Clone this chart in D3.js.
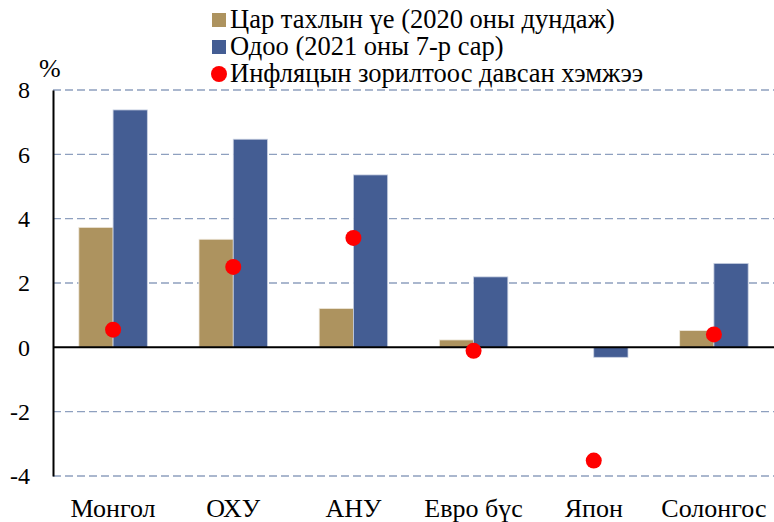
<!DOCTYPE html>
<html><head><meta charset="utf-8">
<script src="https://cdn.jsdelivr.net/npm/d3@7/dist/d3.min.js"></script>
<style>body{margin:0;background:#fff}svg{display:block}</style>
</head><body><svg id="c" width="774" height="522"></svg>
<script>
const categories = ["Монгол","ОХУ","АНУ","Евро бүс","Япон","Солонгос"];
const pandemicValues = [3.73, 3.36, 1.21, 0.23, 0.0, 0.52];
const currentValues = [7.38, 6.47, 5.36, 2.19, -0.31, 2.61];
const excessValues = [0.55, 2.5, 3.4, -0.11, -3.52, 0.40];
const yTicks = [-4,-2,0,2,4,6,8];
const seriesNames = ["Цар тахлын үе (2020 оны дундаж)","Одоо (2021 оны 7-р сар)","Инфляцын зорилтоос давсан хэмжээ"];
const colors = ["#AD935F","#445D93","#FF0000"];

(function(){
const FONT = "Liberation Serif";
const svg = d3.select("#c");
const mLeft = 53, mRight = 774, mTop = 90, mBottom = 476;
const x = d3.scaleBand().domain(categories).range([mLeft, mRight]).paddingInner(0.43).paddingOuter(0.215);
const y = d3.scaleLinear().domain([-4, 8]).range([mBottom, mTop]);

svg.append("g").selectAll("line").data(yTicks.filter(d=>d!==0)).join("line")
  .attr("x1", mLeft).attr("x2", mRight).attr("y1", d=>y(d)).attr("y2", d=>y(d))
  .attr("stroke","#8EA0BF").attr("stroke-width",1.3).attr("stroke-dasharray","8,4");

const bw = x.bandwidth()/2;
const g = svg.append("g");
g.selectAll("rect.p").data(categories).join("rect").attr("class","p")
  .attr("x", d=>x(d)).attr("width", bw)
  .attr("y", (d,i)=>y(Math.max(0,pandemicValues[i]))).attr("height",(d,i)=>Math.abs(y(pandemicValues[i])-y(0)))
  .attr("fill",colors[0]).attr("stroke","#EFE9DE").attr("stroke-width",0.8);
g.selectAll("rect.c").data(categories).join("rect").attr("class","c")
  .attr("x", d=>x(d)+bw).attr("width", bw)
  .attr("y", (d,i)=>y(Math.max(0,currentValues[i]))).attr("height",(d,i)=>Math.abs(y(currentValues[i])-y(0)))
  .attr("fill",colors[1]).attr("stroke","#C9D1E2").attr("stroke-width",0.8);

const ya = svg.append("g").attr("transform",`translate(${mLeft},0)`)
  .call(d3.axisLeft(y).tickValues(yTicks).tickSize(0).tickPadding(23).tickFormat(d=>String(d)));
ya.attr("font-family", FONT).attr("font-size", 24);
ya.select(".domain").attr("stroke","#000").attr("stroke-width",2);
ya.selectAll("text").attr("fill","#000").attr("dy","0.33em");

svg.append("line").attr("x1",mLeft).attr("x2",mRight).attr("y1",y(0)).attr("y2",y(0)).attr("stroke","#000").attr("stroke-width",2);

svg.append("g").selectAll("circle").data(categories).join("circle")
  .attr("cx", d=>x(d)+bw).attr("cy",(d,i)=>y(excessValues[i])).attr("r",8).attr("fill",colors[2]);

svg.append("g").attr("font-family", FONT).attr("font-size", 26).selectAll("text").data(categories).join("text")
  .attr("x", d=>x(d)+bw).attr("y", 517).attr("text-anchor","middle").attr("fill","#000").text(d=>d);

svg.append("text").attr("font-family", FONT).attr("font-size", 26).attr("x",39).attr("y",77).text("%");

const lg = svg.append("g").attr("font-family", FONT).attr("font-size", 26.5);
seriesNames.forEach((s,i)=>{
  const yy = 20 + i*27;
  if(i<2) lg.append("rect").attr("x",212).attr("y",yy-7).attr("width",14).attr("height",14).attr("fill",colors[i]);
  else lg.append("circle").attr("cx",219).attr("cy",yy).attr("r",8).attr("fill",colors[2]);
  lg.append("text").attr("x",230).attr("y",yy+8).text(s);
});
})();
</script></body></html>
